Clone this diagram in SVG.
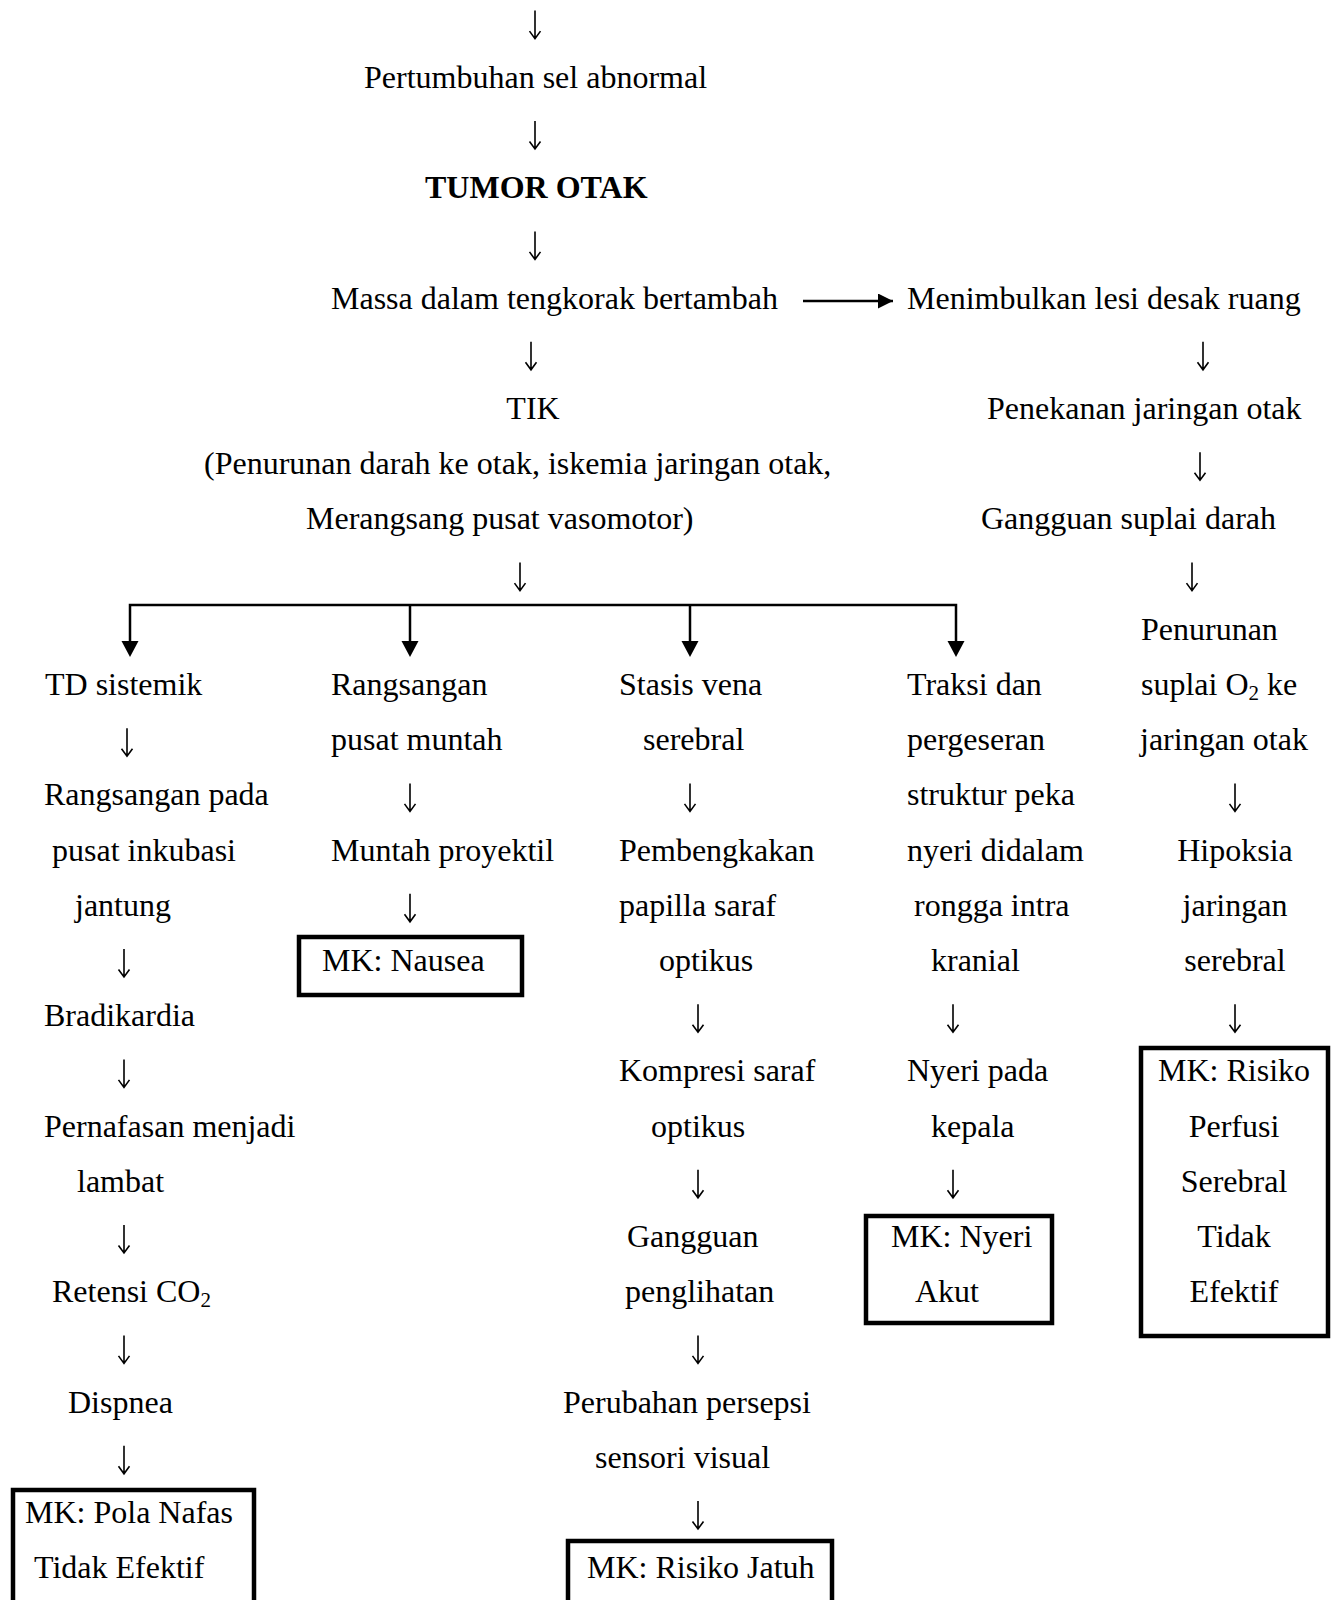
<svg xmlns="http://www.w3.org/2000/svg" width="1338" height="1600" viewBox="0 0 1338 1600">
<style>
text{font-family:"Liberation Serif","Times New Roman",serif;font-size:32px;fill:#000}
.c{text-anchor:middle}
.b{font-weight:bold}
.box{fill:none;stroke:#000;stroke-width:4.5}
.ln{fill:none;stroke:#000;stroke-width:2.5}
.dn{fill:none;stroke:#000;stroke-width:1.6}
</style>
<defs>
<marker id="ah" viewBox="0 0 10 10" refX="10" refY="5" markerWidth="6" markerHeight="6" markerUnits="strokeWidth" orient="auto">
<path d="M0,0 L10,5 L0,10 z" fill="#000"/>
</marker>
<path id="da" class="dn" d="M0,-22 V5.5 M-5.5,-1.5 L0,6 L5.5,-1.5"/>
</defs>
<rect width="1338" height="1600" fill="#fff"/>
<g id="connectors">
<use href="#da" x="535" y="32.6"/>
<use href="#da" x="535" y="143"/>
<use href="#da" x="535" y="253.4"/>
<line class="ln" x1="803" y1="301" x2="893" y2="301" stroke-width="2.8" marker-end="url(#ah)"/>
<use href="#da" x="531" y="363.8"/>
<use href="#da" x="1203" y="363.8"/>
<use href="#da" x="1200" y="474.2"/>
<use href="#da" x="520" y="584.6"/>
<use href="#da" x="1192" y="584.6"/>
<polyline class="ln" points="130,642 130,605 956,605 956,642"/>
<line class="ln" x1="410" y1="605" x2="410" y2="642"/>
<line class="ln" x1="690" y1="605" x2="690" y2="642"/>
<path d="M121.5,641 L138.5,641 L130,657 z M401.5,641 L418.5,641 L410,657 z M681.5,641 L698.5,641 L690,657 z M947.5,641 L964.5,641 L956,657 z" fill="#000"/>
<use href="#da" x="127" y="750.2"/>
<use href="#da" x="124" y="971"/>
<use href="#da" x="124" y="1081.4"/>
<use href="#da" x="124" y="1247"/>
<use href="#da" x="124" y="1357.4"/>
<use href="#da" x="124" y="1467.8"/>
<use href="#da" x="410" y="805.4"/>
<use href="#da" x="410" y="915.8"/>
<use href="#da" x="690" y="805.4"/>
<use href="#da" x="698" y="1026.2"/>
<use href="#da" x="698" y="1191.8"/>
<use href="#da" x="698" y="1357.4"/>
<use href="#da" x="698" y="1523"/>
<use href="#da" x="953" y="1026.2"/>
<use href="#da" x="953" y="1191.8"/>
<use href="#da" x="1235" y="805.4"/>
<use href="#da" x="1235" y="1026.2"/>
</g>
<g id="n-pertumbuhan"><text x="364" y="87.8">Pertumbuhan sel abnormal</text></g>
<g id="n-tumor"><text class="b" x="425" y="198.2">TUMOR OTAK</text></g>
<g id="n-massa"><text x="331" y="308.6">Massa dalam tengkorak bertambah</text></g>
<g id="n-lesi"><text x="907" y="308.6">Menimbulkan lesi desak ruang</text></g>
<g id="n-tik">
<text class="c" x="533" y="419">TIK</text>
<text x="204" y="474.2">(Penurunan darah ke otak, iskemia jaringan otak,</text>
<text x="306" y="529.4">Merangsang pusat vasomotor)</text>
</g>
<g id="n-penekanan"><text x="987" y="419">Penekanan jaringan otak</text></g>
<g id="n-gangguan-suplai"><text x="981" y="529.4">Gangguan suplai darah</text></g>
<g id="n-penurunan-o2">
<text x="1141" y="639.8">Penurunan</text>
<text x="1141" y="695">suplai O<tspan font-size="21" dy="5">2</tspan><tspan dy="-5"> ke</tspan></text>
<text x="1140" y="750.2">jaringan otak</text>
</g>
<g id="n-hipoksia">
<text class="c" x="1235" y="860.6">Hipoksia</text>
<text class="c" x="1235" y="915.8">jaringan</text>
<text class="c" x="1235" y="971">serebral</text>
</g>
<g id="n-mk-perfusi">
<rect class="box" x="1141" y="1048" width="187" height="288"/>
<text x="1158" y="1081.4">MK: Risiko</text>
<text class="c" x="1234" y="1136.6">Perfusi</text>
<text class="c" x="1234" y="1191.8">Serebral</text>
<text class="c" x="1234" y="1247">Tidak</text>
<text class="c" x="1234" y="1302.2">Efektif</text>
</g>
<g id="n-td"><text x="45" y="695">TD sistemik</text></g>
<g id="n-rangsangan-pada">
<text x="44" y="805.4">Rangsangan pada</text>
<text x="52" y="860.6">pusat inkubasi</text>
<text x="75" y="915.8">jantung</text>
</g>
<g id="n-bradikardia"><text x="44" y="1026.2">Bradikardia</text></g>
<g id="n-pernafasan">
<text x="44" y="1136.6">Pernafasan menjadi</text>
<text x="77" y="1191.8">lambat</text>
</g>
<g id="n-retensi"><text x="52" y="1302.2">Retensi CO<tspan font-size="21" dy="5">2</tspan></text></g>
<g id="n-dispnea"><text x="68" y="1412.6">Dispnea</text></g>
<g id="n-mk-pola">
<rect class="box" x="13" y="1490" width="241" height="130"/>
<text x="25" y="1523">MK: Pola Nafas</text>
<text x="34" y="1578.2">Tidak Efektif</text>
</g>
<g id="n-rangsangan-muntah">
<text x="331" y="695">Rangsangan</text>
<text x="331" y="750.2">pusat muntah</text>
</g>
<g id="n-muntah"><text x="331" y="860.6">Muntah proyektil</text></g>
<g id="n-mk-nausea">
<rect class="box" x="299" y="937" width="223" height="58"/>
<text x="322" y="971">MK: Nausea</text>
</g>
<g id="n-stasis">
<text x="619" y="695">Stasis vena</text>
<text x="643" y="750.2">serebral</text>
</g>
<g id="n-pembengkakan">
<text x="619" y="860.6">Pembengkakan</text>
<text x="619" y="915.8">papilla saraf</text>
<text x="659" y="971">optikus</text>
</g>
<g id="n-kompresi">
<text x="619" y="1081.4">Kompresi saraf</text>
<text x="651" y="1136.6">optikus</text>
</g>
<g id="n-gangguan-penglihatan">
<text x="627" y="1247">Gangguan</text>
<text x="625" y="1302.2">penglihatan</text>
</g>
<g id="n-perubahan">
<text x="563" y="1412.6">Perubahan persepsi</text>
<text x="595" y="1467.8">sensori visual</text>
</g>
<g id="n-mk-jatuh">
<rect class="box" x="568" y="1541" width="264" height="80"/>
<text x="587" y="1578.2">MK: Risiko Jatuh</text>
</g>
<g id="n-traksi">
<text x="907" y="695">Traksi dan</text>
<text x="907" y="750.2">pergeseran</text>
<text x="907" y="805.4">struktur peka</text>
<text x="907" y="860.6">nyeri didalam</text>
<text x="914" y="915.8">rongga intra</text>
<text x="931" y="971">kranial</text>
</g>
<g id="n-nyeri">
<text x="907" y="1081.4">Nyeri pada</text>
<text x="931" y="1136.6">kepala</text>
</g>
<g id="n-mk-nyeri">
<rect class="box" x="866" y="1216" width="186" height="107"/>
<text x="891" y="1247">MK: Nyeri</text>
<text x="915" y="1302.2">Akut</text>
</g>
</svg>
